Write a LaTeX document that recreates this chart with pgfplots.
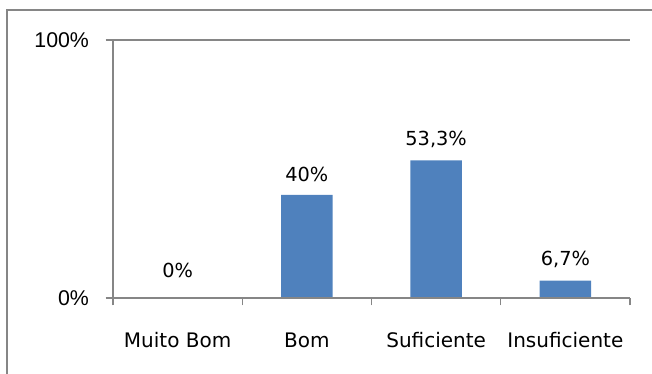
\documentclass[border=0pt]{standalone}
\usepackage{pgfplots}
\pgfplotsset{compat=1.18}
\usepackage{fontspec}
\setmainfont{DejaVu Sans}
\newfontfamily\arialf{Liberation Sans}
\definecolor{barblue}{HTML}{4F81BD}
\definecolor{axgray}{HTML}{868686}
\begin{document}
\begin{tikzpicture}
\useasboundingbox (0pt,0pt) rectangle (489pt,280.5pt);
\draw[axgray, line width=0.9pt] (5.25pt,0pt) -- (5.25pt,273pt) -- (489pt,273pt);
\begin{axis}[
  at={(84.75pt,57pt)}, anchor=south west,
  scale only axis, width=387.75pt, height=193.5pt,
  xmin=-0.5, xmax=3.5, ymin=0, ymax=100,
  axis x line*=bottom, axis y line*=left,
  axis line style={axgray, line width=0.9pt, -},
  axis on top,
  xtick={-0.5,0.5,1.5,2.5,3.5}, xticklabels={},
  extra x ticks={0,1,2,3},
  extra x tick labels={Muito Bom,Bom,Suficiente,Insuficiente},
  extra x tick style={major tick length=0pt, tick label style={anchor=base, yshift=-37pt}},
  x tick style={axgray, line width=0.9pt},
  major tick length=5.5pt,
  tick align=outside,
  ytick={0,100}, yticklabels={\arialf 0\%,\arialf 100\%},
  y tick style={axgray, line width=0.9pt},
  ymajorgrids, grid style={axgray, line width=0.9pt},
  tick label style={font=\fontsize{15}{17}\selectfont, text=black},
  yticklabel style={xshift=-9pt, font=\fontsize{16}{18}\selectfont},
  /pgf/number format/assume math mode=true,
  nodes near coords={\pgfmathprintnumber[use comma,fixed,assume math mode=true]{\pgfplotspointmeta}\%},
  nodes near coords style={font=\fontsize{14.5}{16}\selectfont, black, yshift=6pt},
  clip=false,
]
\addplot[ybar, bar width=0.4, bar shift=0pt, fill=barblue, draw=none,
  nodes near coords style={yshift=6pt}] coordinates {(0,0)};
\addplot[ybar, bar width=0.4, bar shift=0pt, fill=barblue, draw=none] coordinates {(1,40) (2,53.3) (3,6.7)};
\end{axis}
\end{tikzpicture}
\end{document}
